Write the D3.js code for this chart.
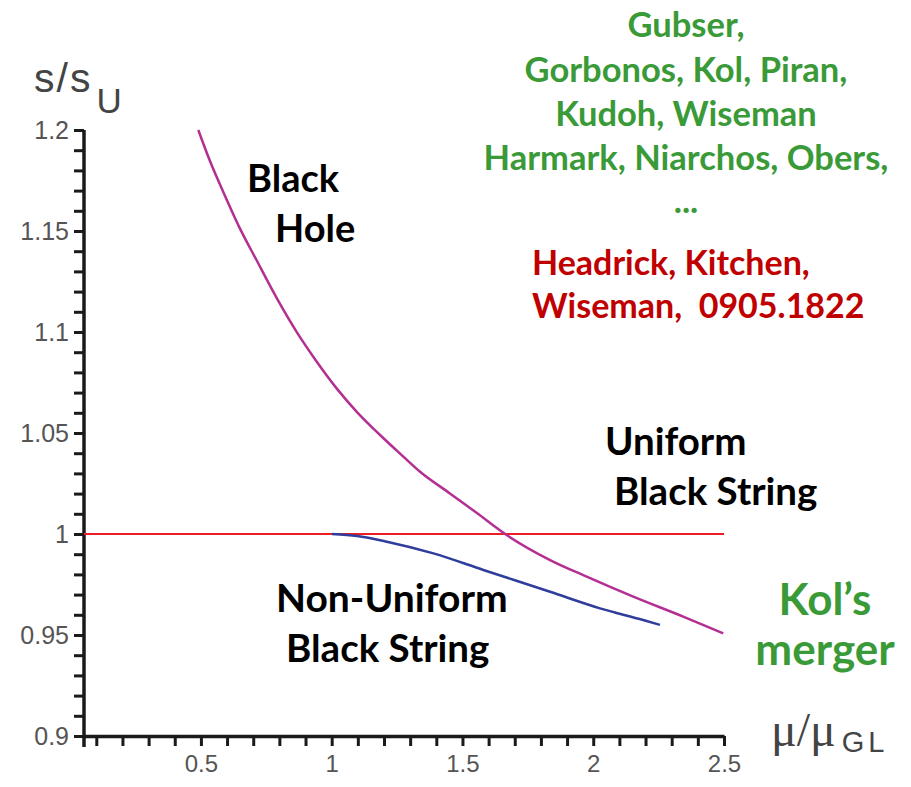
<!DOCTYPE html>
<html><head><meta charset="utf-8">
<script src="https://cdn.jsdelivr.net/npm/d3@7"></script>
<style>body{margin:0;background:#fff}svg{display:block}</style>
</head><body>
<svg id="c" width="911" height="787"></svg>
<script>
// ---- data ----
const blackHoleX = [0.490, 0.535, 0.586, 0.649, 0.713, 0.790, 0.866, 0.943, 1.019, 1.096, 1.185, 1.274, 1.338, 1.452, 1.554, 1.669, 1.835, 1.975, 2.153, 2.344, 2.497];
const blackHoleY = [1.200, 1.1845, 1.1692, 1.1513, 1.1355, 1.1168, 1.1001, 1.0853, 1.0721, 1.0605, 1.049, 1.0383, 1.0308, 1.0201, 1.0105, 0.9995, 0.9871, 0.9789, 0.969, 0.9591, 0.9508];
const nonUniformX = [1.001, 1.097, 1.211, 1.389, 1.580, 1.835, 2.026, 2.191, 2.255];
const nonUniformY = [1.000, 0.999, 0.9962, 0.9904, 0.9822, 0.9714, 0.9632, 0.9574, 0.955];
const uniformLevel = 1.0;
const uniformRange = [0.053, 2.5];
const xMajor = [0.5, 1, 1.5, 2, 2.5];
const yMajor = [0.9, 0.95, 1, 1.05, 1.1, 1.15, 1.2];
const greenRefs = ["Gubser,", "Gorbonos, Kol, Piran,", "Kudoh, Wiseman", "Harmark, Niarchos, Obers,", "..."];
const redRefs = ["Headrick, Kitchen,", "Wiseman,  0905.1822"];

// ---- scales ----
const svg = d3.select("#c");
const x = d3.scaleLinear().domain([0.053, 2.5]).range([84, 724]);
const y = d3.scaleLinear().domain([0.9, 1.2]).range([736, 130]);

const fmt = v => String(Math.round(v * 100) / 100);
const isMajor = (v, list) => list.some(m => Math.abs(m - v) < 1e-6);
const sans = "'Liberation Sans', Arial, sans-serif";

// x axis
const xMinor = d3.range(1, 26).map(i => i / 10);
const xAxis = d3.axisBottom(x).tickValues(xMinor).tickSize(10).tickPadding(9).tickSizeOuter(0)
  .tickFormat(v => isMajor(v, xMajor) ? fmt(v) : "");
const gx = svg.append("g").attr("transform", `translate(0,${y(0.9)})`).call(xAxis);
gx.select(".domain").attr("stroke", "#1a1a1a").attr("stroke-width", 3.5);
gx.selectAll(".tick line").attr("stroke", "#1a1a1a").attr("stroke-width", 3);
gx.selectAll(".tick text").style("font-family", sans).style("font-size", "24px").attr("fill", "#555");

// y axis
const yMinor = d3.range(90, 121).map(i => i / 100);
const yAxis = d3.axisLeft(y).tickValues(yMinor).tickSize(10).tickPadding(5).tickSizeOuter(0)
  .tickFormat(v => isMajor(v, yMajor) ? fmt(v) : "");
const gy = svg.append("g").attr("transform", `translate(${x(0.053)},0)`).call(yAxis);
gy.select(".domain").remove();
gy.append("line").attr("x1", 0).attr("x2", 0).attr("y1", y(1.2)).attr("y2", y(0.9) + 11)
  .attr("stroke", "#1a1a1a").attr("stroke-width", 3.5);
gy.selectAll(".tick line").attr("stroke", "#1a1a1a").attr("stroke-width", 3);
gy.selectAll(".tick text").style("font-family", sans).style("font-size", "25px").attr("fill", "#555");

// axis titles
const yt = svg.append("text").attr("x", 34).attr("y", 92).style("font-family", sans).attr("fill", "#444");
yt.append("tspan").style("font-size", "41px").attr("letter-spacing", 2).text("s/s");
yt.append("tspan").style("font-size", "35px").attr("dx", 4).attr("dy", 21).text("U");
const xt = svg.append("text").attr("x", 771).attr("y", 746).attr("fill", "#444");
xt.append("tspan").style("font-family", "'Liberation Serif', serif").style("font-size", "48px").text("μ/μ");
xt.append("tspan").style("font-family", sans).style("font-size", "29px").attr("letter-spacing", 4).attr("dx", 6).attr("dy", 6).text("GL");

// ---- curves ----
const line = d3.line().x(d => x(d[0])).y(d => y(d[1])).curve(d3.curveMonotoneX);
svg.append("line")
  .attr("x1", x(uniformRange[0])).attr("x2", x(uniformRange[1]))
  .attr("y1", y(uniformLevel)).attr("y2", y(uniformLevel))
  .attr("stroke", "#ee1c25").attr("stroke-width", 2.2);
svg.append("path").datum(d3.zip(nonUniformX, nonUniformY)).attr("d", line)
  .attr("fill", "none").attr("stroke", "#2f3d9c").attr("stroke-width", 2.5);
svg.append("path").datum(d3.zip(blackHoleX, blackHoleY)).attr("d", line)
  .attr("fill", "none").attr("stroke", "#b42f92").attr("stroke-width", 2.5);

// ---- labels ----
const bold = "Lato, 'Open Sans', sans-serif";
function label(txt, px, py, size, color, anchor) {
  return svg.append("text").attr("x", px).attr("y", py).style("font-family", bold).style("font-weight", 700)
    .style("font-size", size + "px").attr("fill", color).attr("text-anchor", anchor || "start")
    .style("white-space", "pre").text(txt);
}
label("Black", 247, 192, 38, "#000");
label("Hole", 275, 242, 38, "#000");
label("Uniform", 605, 455, 38.5, "#000");
label("Black String", 614, 505, 38.5, "#000");
label("Non-Uniform", 276, 612, 39, "#000");
label("Black String", 286, 662, 38.5, "#000");
label("Kol’s", 825, 615, 44, "#3a9a38", "middle");
label("merger", 825, 665, 44, "#3a9a38", "middle");

const greenY = [37, 82, 126, 170, 213];
greenRefs.forEach((t, i) => label(t, 686, greenY[i], 34.5, "#3a9a38", "middle"));
const redY = [275, 318];
redRefs.forEach((t, i) => label(t, 532, redY[i], 34, "#c00000"));
</script>
</body></html>
